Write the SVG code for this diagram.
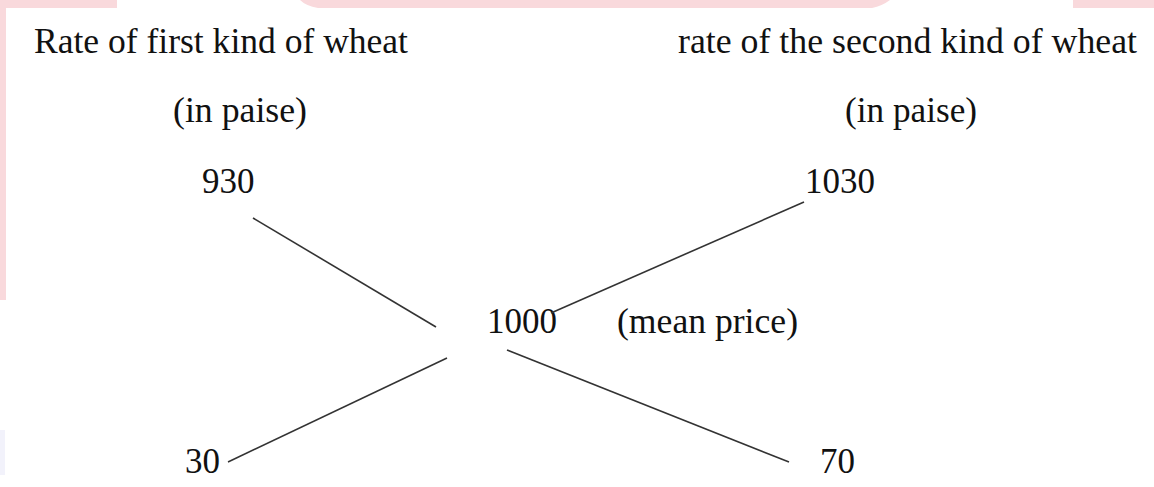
<svg xmlns="http://www.w3.org/2000/svg" width="1154" height="487" viewBox="0 0 1154 487">
<style>
text{font-family:"Liberation Serif","Times New Roman",serif;font-size:35px;fill:#111}
.wm{fill:#f9d9dc}
.c line{stroke:#333;stroke-width:1.6;fill:none}
</style>
<rect width="1154" height="487" fill="#ffffff"/>
<g id="watermark">
<rect class="wm" x="0" y="0" width="117" height="8"/>
<rect class="wm" x="0" y="0" width="6" height="300"/>
<path class="wm" d="M300,0 L890,0 Q882,6 872,8 L318,8 Q306,6 300,0 Z"/>
<rect class="wm" x="1073" y="0" width="81" height="8"/>
<rect x="0" y="430" width="5" height="45" fill="#f2f2fb"/>
</g>
<g id="title-left"><text x="34" y="53" textLength="374" lengthAdjust="spacingAndGlyphs">Rate of first kind of wheat</text></g>
<g id="title-right"><text x="678" y="53" textLength="459" lengthAdjust="spacingAndGlyphs">rate of the second kind of wheat</text></g>
<g id="unit-left"><text x="173" y="122" textLength="134" lengthAdjust="spacingAndGlyphs">(in paise)</text></g>
<g id="unit-right"><text x="845" y="122" textLength="132" lengthAdjust="spacingAndGlyphs">(in paise)</text></g>
<g id="n930"><text x="202" y="193">930</text></g>
<g id="n1030"><text x="805" y="193">1030</text></g>
<g id="n1000"><text x="487" y="333">1000</text></g>
<g id="mean"><text x="617" y="333" textLength="181" lengthAdjust="spacingAndGlyphs">(mean price)</text></g>
<g id="n30"><text x="185" y="473">30</text></g>
<g id="n70"><text x="820" y="473">70</text></g>
<g id="connectors" class="c">
<line x1="253" y1="218" x2="436" y2="327"/>
<line x1="228" y1="462" x2="447" y2="358"/>
<line x1="507" y1="350" x2="789" y2="462"/>
<line x1="551" y1="313" x2="804" y2="202"/>
</g>
</svg>
